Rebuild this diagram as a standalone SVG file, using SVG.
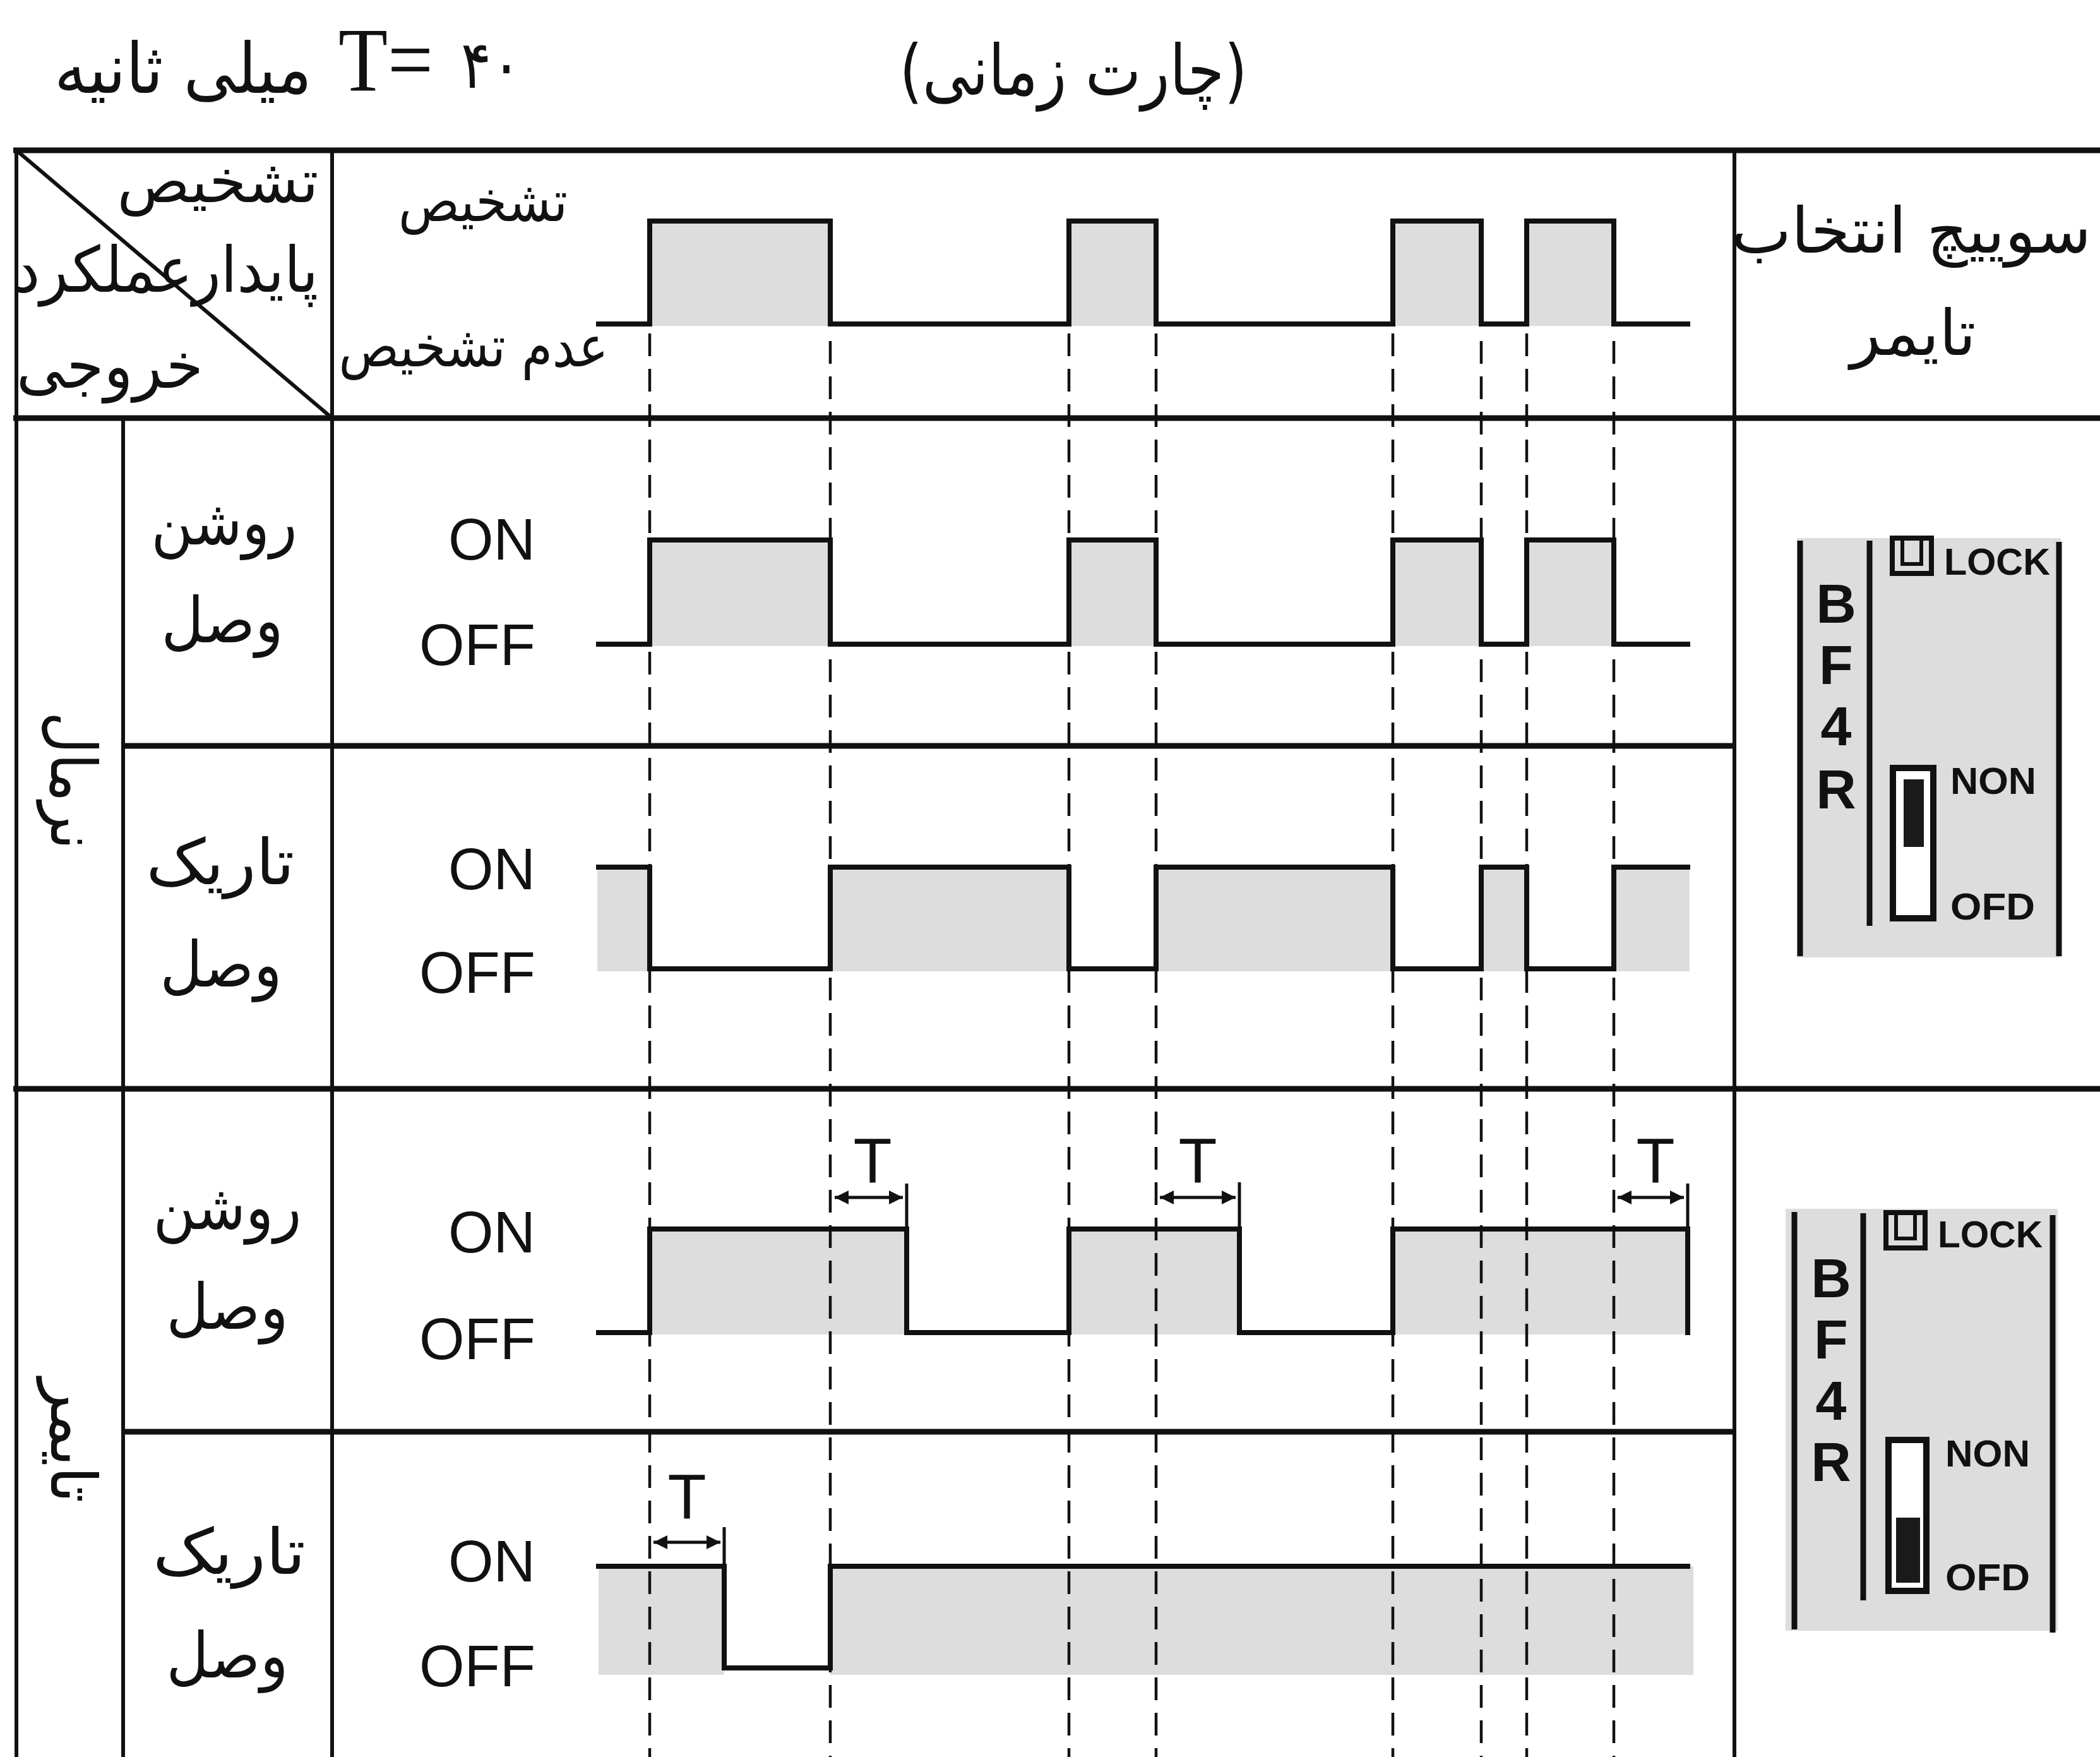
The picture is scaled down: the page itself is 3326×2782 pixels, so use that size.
<svg xmlns="http://www.w3.org/2000/svg" width="3326" height="2782" viewBox="0 0 3326 2782">
<style>
.bg{fill:#ffffff}
.fl{fill:#dddddd}
.sig{fill:none;stroke:#111;stroke-width:8;stroke-linejoin:miter;stroke-linecap:square}
.guide{fill:none;stroke:#111;stroke-width:4.5;stroke-dasharray:36 20}
.hl{stroke:#111;stroke-width:9}
.vl{stroke:#111;stroke-width:6}
.fa{font-family:'DejaVu Sans','Noto Sans',sans-serif;fill:#111;text-anchor:middle}
.onoff{font-family:'Liberation Sans',Arial,sans-serif;fill:#111;font-size:92px;text-anchor:end}
.tl{font-family:'Liberation Sans',Arial,sans-serif;fill:#111;font-size:100px;text-anchor:middle}
.arr{stroke:#111;stroke-width:5;fill:none}
.tick{stroke:#111;stroke-width:5}
.sw{stroke:#111;stroke-width:9;stroke-linecap:butt}
.swt{font-family:'Liberation Sans',Arial,sans-serif;font-weight:bold;fill:#111}
</style>
<defs>
<marker id="ah" viewBox="0 0 10 10" refX="10" refY="5" markerWidth="5" markerHeight="4.4" orient="auto-start-reverse" markerUnits="strokeWidth">
<path d="M0 0 L10 5 L0 10 z" fill="#111"/>
</marker>
</defs>
<rect class="bg" x="0" y="0" width="3326" height="2782"/>

<g id="heading">
<text class="fa" x="1700" y="150" font-size="110" textLength="551" lengthAdjust="spacingAndGlyphs">(چارت زمانی)</text>
<text class="fa" x="290" y="147" font-size="110" textLength="408" lengthAdjust="spacingAndGlyphs">میلی ثانیه</text>
<text x="536" y="143" font-family="'Liberation Serif','Times New Roman',serif" font-size="145" fill="#111" textLength="150" lengthAdjust="spacingAndGlyphs">T=</text>
<text x="778" y="139" font-family="'DejaVu Sans',sans-serif" font-size="105" fill="#111" text-anchor="middle" textLength="96" lengthAdjust="spacingAndGlyphs">۴۰</text>
</g>

<g id="fills">
<rect class="fl" x="1029" y="350" width="286" height="166"/>
<rect class="fl" x="1693" y="350" width="138" height="166"/>
<rect class="fl" x="2206" y="350" width="140" height="166"/>
<rect class="fl" x="2418" y="350" width="138" height="166"/>

<rect class="fl" x="1029" y="855" width="286" height="168"/>
<rect class="fl" x="1693" y="855" width="138" height="168"/>
<rect class="fl" x="2206" y="855" width="140" height="168"/>
<rect class="fl" x="2418" y="855" width="138" height="168"/>

<rect class="fl" x="946" y="1373" width="83" height="165"/>
<rect class="fl" x="1315" y="1373" width="378" height="165"/>
<rect class="fl" x="1831" y="1373" width="375" height="165"/>
<rect class="fl" x="2346" y="1373" width="72" height="165"/>
<rect class="fl" x="2556" y="1373" width="120" height="165"/>

<rect class="fl" x="1029" y="1946" width="407" height="167"/>
<rect class="fl" x="1693" y="1946" width="270" height="167"/>
<rect class="fl" x="2206" y="1946" width="467" height="167"/>

<rect class="fl" x="948" y="2480" width="199" height="172"/>
<rect class="fl" x="1315" y="2480" width="367" height="172"/>
<rect class="fl" x="1682" y="2480" width="1000" height="172"/>
</g>

<g id="guides">
<line class="guide" x1="1029" y1="528" x2="1029" y2="2782"/>
<line class="guide" x1="1315" y1="540" x2="1315" y2="2782"/>
<line class="guide" x1="1693" y1="528" x2="1693" y2="2782"/>
<line class="guide" x1="1831" y1="528" x2="1831" y2="2782"/>
<line class="guide" x1="2206" y1="528" x2="2206" y2="2782"/>
<line class="guide" x1="2346" y1="540" x2="2346" y2="2782"/>
<line class="guide" x1="2418" y1="528" x2="2418" y2="2782"/>
<line class="guide" x1="2556" y1="540" x2="2556" y2="2782"/>
</g>

<g id="signal-detect">
<path class="sig" d="M948 513 H1029 V350 H1315 V513 H1693 V350 H1831 V513 H2206 V350 H2346 V513 H2418 V350 H2556 V513 H2673"/>
</g>
<g id="signal-normal-light">
<path class="sig" d="M948 1020 H1029 V855 H1315 V1020 H1693 V855 H1831 V1020 H2206 V855 H2346 V1020 H2418 V855 H2556 V1020 H2673"/>
</g>
<g id="signal-normal-dark">
<path class="sig" d="M948 1373 H1029 V1534 H1315 V1373 H1693 V1534 H1831 V1373 H2206 V1534 H2346 V1373 H2418 V1534 H2556 V1373 H2673"/>
</g>
<g id="signal-timer-light">
<path class="sig" d="M948 2110 H1029 V1946 H1436 V2110 H1693 V1946 H1963 V2110 H2206 V1946 H2673 V2110"/>
</g>
<g id="signal-timer-dark">
<path class="sig" d="M948 2480 H1147 V2641 H1315 V2480 H2673"/>
</g>

<g id="delays">
<line class="tick" x1="1436" y1="1874" x2="1436" y2="1946"/>
<line class="arr" x1="1322" y1="1896" x2="1430" y2="1896" marker-start="url(#ah)" marker-end="url(#ah)"/>
<text class="tl" x="1382" y="1872">T</text>
<line class="tick" x1="1963" y1="1872" x2="1963" y2="1946"/>
<line class="arr" x1="1837" y1="1896" x2="1957" y2="1896" marker-start="url(#ah)" marker-end="url(#ah)"/>
<text class="tl" x="1897" y="1872">T</text>
<line class="tick" x1="2673" y1="1874" x2="2673" y2="1946"/>
<line class="arr" x1="2562" y1="1896" x2="2667" y2="1896" marker-start="url(#ah)" marker-end="url(#ah)"/>
<text class="tl" x="2622" y="1872">T</text>
<line class="tick" x1="1147" y1="2418" x2="1147" y2="2480"/>
<line class="arr" x1="1035" y1="2442" x2="1141" y2="2442" marker-start="url(#ah)" marker-end="url(#ah)"/>
<text class="tl" x="1088" y="2404">T</text>
</g>

<g id="grid">
<line class="hl" x1="21" y1="238" x2="3326" y2="238"/>
<line class="hl" x1="21" y1="662" x2="3326" y2="662"/>
<line class="hl" x1="195" y1="1181" x2="2747" y2="1181"/>
<line class="hl" x1="21" y1="1724" x2="3326" y2="1724"/>
<line class="hl" x1="195" y1="2267" x2="2747" y2="2267"/>
<line class="vl" x1="26" y1="234" x2="26" y2="2782"/>
<line class="vl" x1="195" y1="662" x2="195" y2="2782"/>
<line class="vl" x1="526" y1="234" x2="526" y2="2782"/>
<line class="vl" x1="2747" y1="234" x2="2747" y2="2782"/>
<line class="vl" x1="26" y1="238" x2="526" y2="662"/>
</g>

<g id="header-labels">
<text class="fa" x="345" y="320" font-size="95" textLength="319" lengthAdjust="spacingAndGlyphs">تشخیص</text>
<text class="fa" x="263" y="462" font-size="100" textLength="482" lengthAdjust="spacingAndGlyphs">پایدارعملکرد</text>
<text class="fa" x="174" y="614" font-size="100" textLength="296" lengthAdjust="spacingAndGlyphs">خروجی</text>
<text class="fa" x="765" y="350" font-size="90" textLength="268" lengthAdjust="spacingAndGlyphs">تشخیص</text>
<text class="fa" x="750" y="580" font-size="90" textLength="427" lengthAdjust="spacingAndGlyphs">عدم تشخیص</text>
<text class="fa" x="3027" y="400" font-size="100" textLength="570" lengthAdjust="spacingAndGlyphs">سوییچ انتخاب</text>
<text class="fa" x="3030" y="562" font-size="100" textLength="199" lengthAdjust="spacingAndGlyphs">تایمر</text>
</g>

<g id="row-labels">
<text class="fa" transform="translate(103,1236) rotate(90)" x="0" y="22" font-size="100" textLength="218" lengthAdjust="spacingAndGlyphs">نرمال</text>
<text class="fa" transform="translate(103,2281) rotate(90)" x="0" y="22" font-size="100" textLength="197" lengthAdjust="spacingAndGlyphs">تایمر</text>

<text class="fa" x="355" y="862" font-size="100" textLength="231" lengthAdjust="spacingAndGlyphs">روشن</text>
<text class="fa" x="352" y="1017" font-size="100" textLength="193" lengthAdjust="spacingAndGlyphs">وصل</text>
<text class="onoff" x="848" y="886">ON</text>
<text class="onoff" x="848" y="1053">OFF</text>

<text class="fa" x="349" y="1400" font-size="100" textLength="235" lengthAdjust="spacingAndGlyphs">تاریک</text>
<text class="fa" x="350" y="1562" font-size="100" textLength="193" lengthAdjust="spacingAndGlyphs">وصل</text>
<text class="onoff" x="848" y="1408">ON</text>
<text class="onoff" x="848" y="1572">OFF</text>

<text class="fa" x="360" y="1946" font-size="100" textLength="235" lengthAdjust="spacingAndGlyphs">روشن</text>
<text class="fa" x="360" y="2104" font-size="100" textLength="193" lengthAdjust="spacingAndGlyphs">وصل</text>
<text class="onoff" x="848" y="1983">ON</text>
<text class="onoff" x="848" y="2152">OFF</text>

<text class="fa" x="363" y="2492" font-size="100" textLength="242" lengthAdjust="spacingAndGlyphs">تاریک</text>
<text class="fa" x="360" y="2656" font-size="100" textLength="193" lengthAdjust="spacingAndGlyphs">وصل</text>
<text class="onoff" x="848" y="2504">ON</text>
<text class="onoff" x="848" y="2670">OFF</text>
</g>

<g id="switch-normal">
<rect class="fl" x="2846" y="852" width="418" height="664"/>
<line class="sw" x1="2851" y1="856" x2="2851" y2="1514"/>
<line class="sw" x1="2961" y1="856" x2="2961" y2="1466"/>
<line class="sw" x1="3261" y1="858" x2="3261" y2="1514"/>
<text class="swt" x="2908" y="986" font-size="88" text-anchor="middle">B</text>
<text class="swt" x="2908" y="1083" font-size="88" text-anchor="middle">F</text>
<text class="swt" x="2908" y="1180" font-size="88" text-anchor="middle">4</text>
<text class="swt" x="2908" y="1280" font-size="88" text-anchor="middle">R</text>
<rect x="2997" y="852" width="62" height="56" fill="none" stroke="#111" stroke-width="8"/>
<path d="M3013 852 V893 H3043 V852" fill="none" stroke="#111" stroke-width="6"/>
<text class="swt" x="3079" y="910" font-size="60" textLength="168" lengthAdjust="spacingAndGlyphs">LOCK</text>
<rect x="2998" y="1216" width="64" height="238" fill="#ffffff" stroke="#111" stroke-width="10"/>
<rect x="3015" y="1234" width="32" height="107" fill="#1a1a1a"/>
<text class="swt" x="3089" y="1257" font-size="60" textLength="136" lengthAdjust="spacingAndGlyphs">NON</text>
<text class="swt" x="3089" y="1456" font-size="60" textLength="134" lengthAdjust="spacingAndGlyphs">OFD</text>
</g>

<g id="switch-timer">
<rect class="fl" x="2828" y="1914" width="431" height="668"/>
<line class="sw" x1="2842" y1="1919" x2="2842" y2="2580"/>
<line class="sw" x1="2951" y1="1921" x2="2951" y2="2534"/>
<line class="sw" x1="3251" y1="1924" x2="3251" y2="2585"/>
<text class="swt" x="2900" y="2054" font-size="88" text-anchor="middle">B</text>
<text class="swt" x="2900" y="2151" font-size="88" text-anchor="middle">F</text>
<text class="swt" x="2900" y="2248" font-size="88" text-anchor="middle">4</text>
<text class="swt" x="2900" y="2345" font-size="88" text-anchor="middle">R</text>
<rect x="2987" y="1920" width="62" height="56" fill="none" stroke="#111" stroke-width="8"/>
<path d="M3003 1920 V1961 H3033 V1920" fill="none" stroke="#111" stroke-width="6"/>
<text class="swt" x="3069" y="1975" font-size="60" textLength="166" lengthAdjust="spacingAndGlyphs">LOCK</text>
<rect x="2991" y="2280" width="60" height="239" fill="#ffffff" stroke="#111" stroke-width="10"/>
<rect x="3003" y="2403" width="38" height="103" fill="#1a1a1a"/>
<text class="swt" x="3081" y="2322" font-size="60" textLength="134" lengthAdjust="spacingAndGlyphs">NON</text>
<text class="swt" x="3081" y="2518" font-size="60" textLength="134" lengthAdjust="spacingAndGlyphs">OFD</text>
</g>
</svg>
